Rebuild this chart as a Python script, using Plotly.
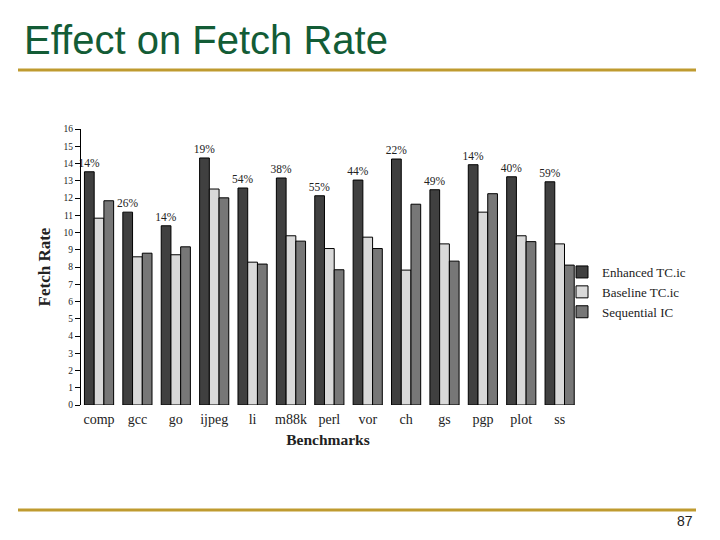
import plotly.graph_objects as go

benchmarks = ["comp", "gcc", "go", "ijpeg", "li", "m88k", "perl", "vor", "ch", "gs", "pgp", "plot", "ss"]
enhanced_tc = [13.52, 11.18, 10.39, 14.32, 12.58, 13.16, 12.13, 13.04, 14.26, 12.48, 13.93, 13.23, 12.94]
baseline_tc = [10.83, 8.59, 8.71, 12.52, 8.28, 9.81, 9.07, 9.73, 7.82, 9.34, 11.18, 9.81, 9.34]
sequential_ic = [11.84, 8.80, 9.17, 12.01, 8.17, 9.50, 7.84, 9.07, 11.64, 8.34, 12.25, 9.47, 8.11]
improvement = ["14%", "26%", "14%", "19%", "54%", "38%", "55%", "44%", "22%", "49%", "14%", "40%", "59%"]
y_ticks = list(range(0, 17))

# page body margin offset (browser default 8px)
OFF = 8
W, H = 720 - OFF, 540 - OFF
# plot-area geometry in reference-screenshot pixels
L, R, T, B = 81, 575, 129, 405
def px(x):
    return (x - L) / (R - L)
def py(y):
    return (B - y) / (B - T)

serif = "Liberation Serif"
fig = go.Figure()
fig.add_trace(go.Bar(x=benchmarks, y=enhanced_tc, name="Enhanced TC.ic",
                     marker=dict(color="#404040", line=dict(color="black", width=1)),
                     text=improvement, textposition="outside",
                     textfont=dict(family=serif, size=11.5, color="#222"),
                     cliponaxis=False))
fig.add_trace(go.Bar(x=benchmarks, y=baseline_tc, name="Baseline TC.ic",
                     marker=dict(color="#d9d9d9", line=dict(color="black", width=1))))
fig.add_trace(go.Bar(x=benchmarks, y=sequential_ic, name="Sequential IC",
                     marker=dict(color="#777777", line=dict(color="black", width=1))))

fig.update_layout(
    width=W, height=H,
    margin=dict(l=L - OFF, r=720 - R, t=T - OFF, b=540 - B, autoexpand=False),
    paper_bgcolor="white", plot_bgcolor="white",
    barmode="group", bargap=0.24, bargroupgap=0,
    font=dict(family=serif, color="#222"),
    showlegend=True,
    legend=dict(x=px(562), y=py(257), xanchor="left", yanchor="top",
                font=dict(family=serif, size=13, color="#222"),
                itemwidth=30, tracegroupgap=0, bgcolor="rgba(0,0,0,0)"),
    xaxis=dict(range=[-0.47, 12.4], showline=False, ticks="", showgrid=False,
               ticklabelstandoff=4,
               tickfont=dict(family=serif, size=14, color="#222"),
               title=dict(text="<b>Benchmarks</b>", font=dict(family=serif, size=15.5, color="#222"),
                          standoff=8)),
    yaxis=dict(range=[0, 16], tickvals=y_ticks, showline=True, linecolor="black", linewidth=1,
               ticks="outside", ticklen=5, tickcolor="black", showgrid=False, zeroline=False,
               tickfont=dict(family=serif, size=9.5, color="#222"),
               title=dict(text="<b>Fetch Rate</b>", font=dict(family=serif, size=17, color="#222"),
                          standoff=8)),
)
fig.update_traces(selector=dict(type="bar"), constraintext="none")

# slide decorations
fig.add_annotation(text="Effect on Fetch Rate", xref="paper", yref="paper",
                   x=px(22), y=py(40), xanchor="left", yanchor="middle", showarrow=False,
                   font=dict(family="Liberation Sans", size=40, color="#135c36"))
fig.add_shape(type="line", xref="paper", yref="paper", x0=px(18), x1=px(696), y0=py(70), y1=py(70),
              line=dict(color="#bf9b30", width=3))
fig.add_shape(type="line", xref="paper", yref="paper", x0=px(18), x1=px(696), y0=py(510), y1=py(510),
              line=dict(color="#bf9b30", width=3))
fig.add_annotation(text="87", xref="paper", yref="paper", x=px(695), y=py(521),
                   xanchor="right", yanchor="middle", showarrow=False,
                   font=dict(family="Liberation Sans", size=14, color="#222"))

fig.write_html("out.html")
